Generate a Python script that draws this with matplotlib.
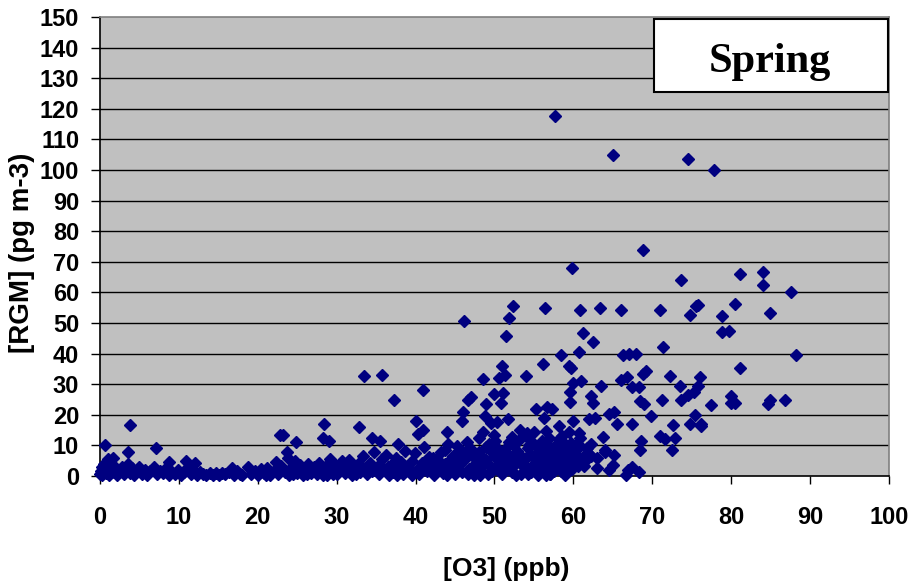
import matplotlib
matplotlib.use("Agg")
import matplotlib.pyplot as plt
from matplotlib.patches import Rectangle

# --- donnees (O3 en ppb, RGM en pg m-3) ---
# nuage dense a faible RGM
o3_bas = [0.0, 0.1, 0.2, 0.3, 0.5, 0.7, 0.9, 1.0, 1.2, 1.4, 1.6, 1.8, 2.0, 2.2, 2.5, 2.8, 3.0, 3.3, 3.5, 3.8,
          4.0, 4.3, 4.6, 5.0, 5.3, 5.7, 6.0, 6.4, 6.8, 7.2, 7.6, 8.0, 8.3, 8.7, 9.1, 9.5, 9.9, 10.3, 10.7, 11.1,
          11.5, 11.9, 12.3, 12.7, 13.1, 13.5, 13.9, 14.3, 14.7, 15.1, 15.5, 15.9, 16.3, 16.7, 17.0, 17.4, 17.8, 18.0,
          18.8, 19.2, 19.6, 20.0, 20.4, 20.8, 21.2, 21.6, 22.0, 22.3, 22.6, 23.0, 23.4, 23.8, 24.0, 24.3, 24.7, 25.0,
          25.3, 25.7, 26.0, 26.4, 26.8, 27.1, 27.5, 27.8, 28.1, 28.5, 28.8, 29.1, 29.4, 29.8, 30.1, 30.4,
          30.7, 31.0, 31.3, 31.6, 32.0, 32.3, 32.7, 33.0, 33.3, 33.6, 33.9, 34.2, 34.5, 34.8, 35.1, 35.4, 35.7, 36.0,
          36.3, 36.6, 36.9, 37.2, 37.5, 37.8, 38.1, 38.4, 38.7, 39.0, 39.3, 39.6, 39.9, 40.2, 40.5, 40.8, 41.1, 41.4,
          41.7, 42.0, 42.3, 42.6, 42.9, 43.2, 43.5, 43.8, 44.1, 44.4, 44.7, 45.0,
          45.3, 45.6, 45.9, 46.2, 46.5, 46.8, 47.1, 47.4, 47.7, 48.0, 48.3, 48.6, 48.9, 49.2, 49.5, 49.8, 50.1, 50.4,
          50.7, 51.0, 51.3, 51.6, 51.9, 52.2, 52.5, 52.8, 53.1, 53.4, 53.7, 54.0, 54.3, 54.6, 54.9, 55.2, 55.5, 55.8,
          56.1, 56.4, 56.7, 57.0, 57.3, 57.6, 57.9, 58.2, 58.5, 58.8, 59.1, 59.4, 59.7, 60.0, 60.4, 60.8, 61.2, 61.7, 62.0,
          20.2, 21.0, 22.8, 24.5, 26.2, 27.3, 28.3, 29.6, 31.2, 32.5, 34.0, 35.2, 36.5, 37.6, 38.6, 39.5, 40.6, 41.5,
          42.5, 43.4, 44.0, 44.9, 45.8, 46.6, 47.3, 48.2, 49.0, 49.7, 50.5, 51.2, 52.0, 52.7, 53.5, 54.2, 55.0, 55.9,
          56.6, 57.5, 58.3, 59.0, 59.8, 60.6, 61.5]
rgm_bas = [0.5, 1.5, 2.8, 0.2, 4.0, 1.0, 2.2, 5.5, 0.4, 3.2, 6.0, 1.2, 2.5, 0.3, 1.8, 3.0, 0.6, 2.0, 3.8, 1.0,
           2.6, 0.2, 1.5, 3.0, 0.8, 2.0, 0.3, 1.6, 2.8, 0.5, 1.8, 0.9, 2.2, 0.2, 1.4, 0.6, 2.0, 0.4, 1.2, 3.0,
           0.8, 1.6, 0.3, 1.2, 0.5, 0.2, 1.0, 0.4, 1.1, 0.3, 0.9, 0.5, 1.3, 2.6, 0.4, 1.5, 0.8, 0.2,
           2.8, 0.5, 1.8, 0.3, 2.2, 1.0, 2.6, 0.4, 1.5, 4.6, 0.8, 3.2, 1.2, 6.0, 0.4, 2.8, 5.0, 1.0,
           3.5, 0.3, 2.2, 4.0, 1.0, 3.0, 0.5, 4.2, 1.6, 2.8, 0.4, 5.5, 1.8, 3.6, 0.6, 2.4,
           4.8, 1.0, 3.2, 5.2, 0.4, 2.0, 3.8, 1.2, 6.5, 2.6, 0.5, 4.4, 1.6, 8.0, 3.0, 0.8, 5.6, 2.2,
           7.0, 0.4, 3.6, 1.4, 6.0, 2.6, 4.6, 0.6, 8.2, 3.0, 1.2, 5.0, 7.5, 2.0, 0.8, 4.2, 9.5, 1.6,
           6.2, 3.2, 0.4, 5.4, 2.0, 7.8, 1.0, 4.0, 10.5, 2.6, 6.6, 0.6,
           3.6, 8.4, 1.4, 5.2, 11.0, 2.4, 7.0, 0.4, 4.4, 12.5, 1.8, 6.0, 9.6, 0.6, 3.4, 7.6, 11.4, 2.2,
           5.4, 0.8, 8.8, 3.0, 6.4, 1.4, 10.0, 4.2, 7.2, 0.8, 2.8, 5.8, 9.0, 1.2, 3.6, 6.8, 0.4, 4.4,
           11.6, 2.0, 7.4, 0.8, 5.0, 9.4, 3.0, 12.0, 1.6, 6.2, 8.6, 4.0, 10.8, 5.6, 7.0, 12.4, 6.0, 9.2, 7.2,
           1.2, 0.2, 2.4, 0.8, 0.6, 2.0, 0.2, 0.8, 2.2, 0.8, 2.8, 1.8, 3.0, 0.2, 2.0, 0.2, 3.0, 4.6,
           1.4, 3.0, 0.2, 4.8, 6.4, 0.6, 3.0, 0.4, 5.2, 1.8, 4.0, 6.2, 2.6, 0.2, 4.8, 0.6, 2.0, 8.2,
           0.2, 1.6, 4.2, 0.4, 2.2, 3.2, 5.0]

# coeur du nuage entre 42 et 64 ppb
o3_milieu = [42.2, 43.0, 43.7, 44.5, 45.2, 45.7, 46.3, 46.9, 47.5, 48.1, 48.7, 49.3, 49.9, 50.3, 50.8, 51.4,
             51.9, 52.4, 52.9, 53.3, 53.9, 54.4, 54.8, 55.3, 55.7, 56.2, 56.8, 57.2, 57.8, 58.4, 58.9, 59.3,
             59.9, 60.3, 60.9, 61.4, 62.2, 63.0, 64.0, 48.5, 50.0, 52.2, 54.6, 56.9, 58.6]
rgm_milieu = [6.0, 4.8, 8.6, 5.6, 9.8, 4.0, 7.8, 9.0, 5.8, 8.0, 3.8, 10.4, 6.6, 9.0, 2.8, 7.4,
              11.0, 5.0, 8.2, 12.0, 3.4, 10.2, 6.4, 9.8, 2.6, 5.4, 10.0, 3.8, 6.6, 8.8, 10.6, 2.8,
              7.8, 10.2, 9.8, 3.2, 10.6, 6.0, 8.0, 14.5, 13.5, 12.8, 11.5, 12.5, 13.0]

# points isoles
o3_haut = [57.7, 65.0, 74.5, 77.8, 68.8, 59.8, 81.2, 84.0, 84.0, 73.6, 87.6,
           52.3, 56.4, 63.4, 66.1, 60.9, 71.0, 75.8, 75.5, 74.8, 78.8, 80.5, 85.0,
           46.2, 51.8, 51.5, 61.2, 62.5,
           58.5, 60.7, 66.3, 67.1, 67.9, 71.4, 78.8, 79.8, 81.1, 88.2,
           56.2, 59.5, 59.7, 51.0, 50.6, 51.3, 48.5, 54.0, 60.0, 61.0, 63.5, 66.0, 66.8, 67.4, 68.3, 68.8, 69.2,
           72.3, 73.5, 75.8, 76.1,
           33.5, 35.7, 40.9, 37.3, 47.0, 46.6, 50.0, 51.1, 50.9, 48.9, 59.6, 59.6, 62.2, 62.5, 68.5, 69.0, 71.3,
           73.7, 74.5, 75.3, 77.5, 80.0, 80.0, 80.5, 84.7, 85.0, 86.9,
           46.0, 45.9, 48.8, 50.3, 49.6, 51.7, 55.3, 56.3, 56.7, 57.3, 58.2, 60.0, 62.0, 62.8, 64.5, 65.2, 65.6,
           67.5, 69.8, 72.6, 74.8, 75.4, 76.2, 76.2,
           40.0, 41.0, 40.3, 44.0, 53.3, 54.1, 55.0, 56.6, 59.5, 60.7, 63.8, 71.0, 71.6, 72.9, 72.5, 68.6, 68.5,
           22.8, 23.2, 28.4, 28.3, 29.0, 32.8, 34.5, 35.5, 3.8, 0.6, 3.6, 7.1, 8.7, 10.9, 12.0, 24.8, 23.7, 37.8,
           63.0, 64.5, 65.0, 66.7, 67.4, 68.3, 67.0, 61.5, 62.3, 64.0, 65.2, 58.8, 57.0]
rgm_haut = [117.5, 105.0, 103.7, 100.0, 73.8, 68.0, 66.0, 66.7, 62.3, 64.0, 60.0,
            55.6, 55.0, 55.0, 54.2, 54.2, 54.3, 56.0, 55.5, 52.7, 52.3, 56.3, 53.3,
            50.5, 51.5, 45.7, 46.7, 43.8,
            39.7, 40.4, 39.6, 40.0, 40.0, 42.3, 47.0, 47.3, 35.4, 39.5,
            36.5, 35.8, 35.2, 35.8, 32.0, 33.0, 31.6, 32.8, 30.5, 31.0, 29.5, 31.5, 32.5, 29.0, 29.0, 33.5, 34.4,
            32.6, 29.5, 29.5, 32.2,
            32.7, 33.0, 28.2, 25.0, 25.7, 25.0, 26.8, 27.0, 24.0, 23.6, 27.3, 24.2, 26.3, 23.8, 24.5, 23.5, 24.7,
            25.0, 26.6, 27.5, 23.2, 26.0, 24.0, 24.0, 23.5, 25.0, 24.8,
            21.0, 18.0, 19.7, 17.6, 17.2, 18.5, 21.8, 18.8, 22.7, 21.8, 16.5, 18.0, 18.5, 19.0, 20.3, 21.0, 17.0,
            17.0, 19.6, 16.8, 17.0, 20.0, 17.0, 16.5,
            18.0, 15.0, 13.8, 14.5, 15.0, 14.0, 14.5, 14.7, 14.5, 14.0, 12.7, 13.0, 12.0, 12.5, 8.5, 11.5, 8.5,
            13.5, 13.5, 17.0, 12.3, 11.5, 16.0, 12.5, 11.3, 16.8, 10.0, 8.0, 9.0, 4.5, 5.0, 4.3, 11.0, 8.0, 10.5,
            2.5, 2.0, 3.5, 0.3, 3.0, 1.2, 2.0, 7.0, 6.5, 8.5, 7.0, 1.0, 0.5]

yticks = list(range(0, 151, 10))
xticks = list(range(0, 101, 10))

fig = plt.figure(figsize=(9.15, 5.82), dpi=100)
ax = fig.add_axes([0.1093, 0.1821, 0.862, 0.7887])
ax.set_facecolor('#c0c0c0')

# lignes de grille horizontales noires
for y in yticks[1:-1]:
    ax.axhline(y, color='black', linewidth=1.0, zorder=1)

style = dict(marker='D', color='#000080', markersize=6.6, linestyle='none', clip_on=False, zorder=3)
ax.plot(o3_bas, rgm_bas, **style)
ax.plot(o3_milieu, rgm_milieu, **style)
ax.plot(o3_haut, rgm_haut, **style)

ax.set_xlim(0, 100)
ax.set_ylim(0, 150)
ax.set_xticks(xticks)
ax.set_yticks(yticks)
ax.tick_params(axis='both', direction='out', width=1, color='black', labelsize=17)
ax.tick_params(axis='y', length=6.5, pad=8.5)
ax.tick_params(axis='x', length=5.8, pad=16)
for lab in ax.get_xticklabels() + ax.get_yticklabels():
    lab.set_fontweight('bold')
    lab.set_fontfamily('Liberation Sans')

for s in ['left', 'bottom']:
    ax.spines[s].set_color('black')
    ax.spines[s].set_linewidth(1.2)
for s in ['top', 'right']:
    ax.spines[s].set_color('#808080')
    ax.spines[s].set_linewidth(1.2)

ax.set_xlabel('[O3] (ppb)', fontsize=19, fontweight='bold', family='Liberation Sans')
ax.set_ylabel('[RGM] (pg m-3)', fontsize=20, fontweight='bold', family='Liberation Sans')
ax.xaxis.set_label_coords(0.515, -0.177)
ax.yaxis.set_label_coords(-0.083, 0.487)

# encadre "Spring"
ax.add_patch(Rectangle((0.702, 0.8366), 0.2966, 0.159, transform=ax.transAxes, facecolor='white',
                       edgecolor='black', linewidth=1.5, clip_on=False, zorder=4))
ax.text(0.849, 0.880, 'Spring', transform=ax.transAxes, ha='center', va='baseline', fontsize=30.5,
        fontweight='bold', family='Liberation Serif', zorder=5)

fig.savefig('out.png', dpi=100)
